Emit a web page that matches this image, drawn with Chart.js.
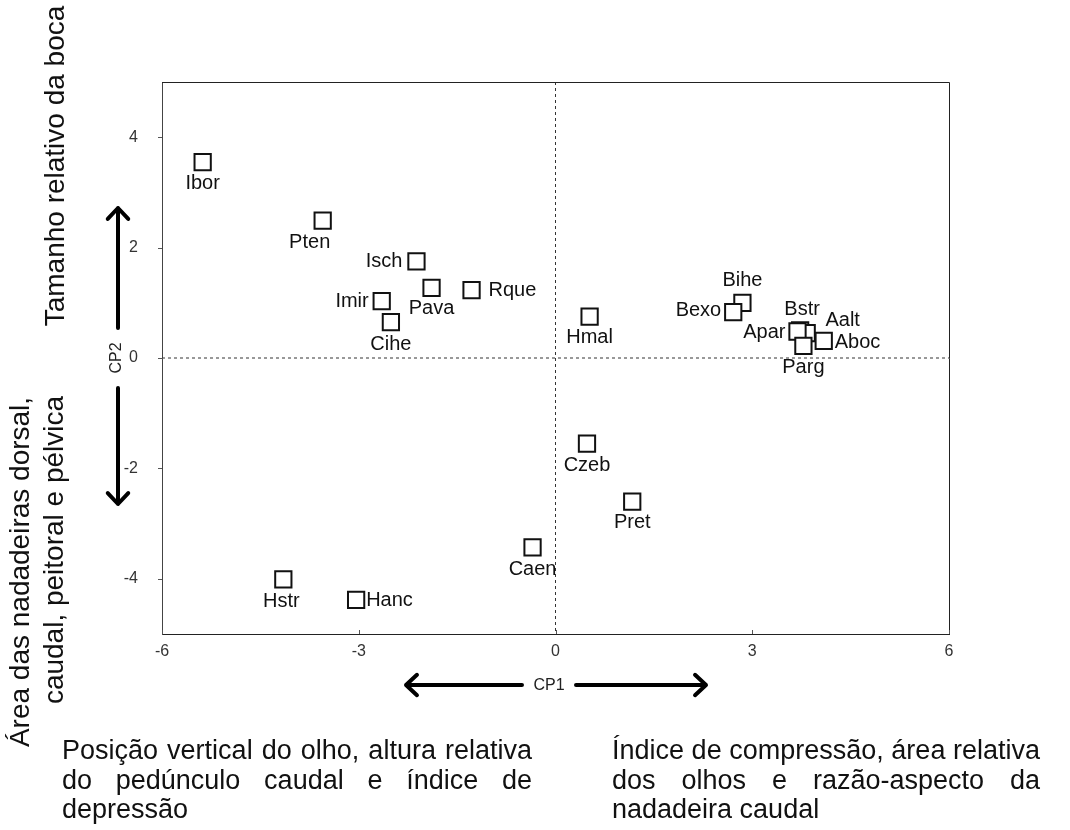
<!DOCTYPE html>
<html>
<head>
<meta charset="utf-8">
<script src="https://cdn.jsdelivr.net/npm/chart.js@4"></script>
<style>
  html, body { margin: 0; padding: 0; background: #fff; }
  canvas { display: block; }
</style>
</head>
<body>
<canvas id="chart" width="1070" height="830"></canvas>
<script>
// data
const species = ["Ibor", "Pten", "Isch", "Pava", "Rque", "Imir", "Cihe", "Hmal", "Bihe", "Bexo",
                 "Bstr", "Aalt", "Apar", "Aboc", "Parg", "Czeb", "Pret", "Caen", "Hstr", "Hanc"];
const cp1 = [-5.38, -3.55, -2.12, -1.89, -1.28, -2.65, -2.51, 0.52, 2.85, 2.71,
              3.73,  3.83,  3.69,  4.09,  3.78,  0.48,  1.17, -0.35, -4.15, -3.04];
const cp2 = [ 3.55,  2.49,  1.75,  1.27,  1.23,  1.03,  0.65, 0.75, 1.00, 0.83,
              0.50,  0.45,  0.48,  0.31,  0.22, -1.55, -2.60, -3.43, -4.01, -4.38];
const xTicks = [-6, -3, 0, 3, 6];
const yTicks = [-4, -2, 0, 2, 4];

// label placement relative to each point: [dx, dy, align]
const labelPos = [
  [0, 21, "center"], [-13, 22, "center"], [-14, 0, "right"], [0, 21, "center"], [17, 0, "left"],
  [-13, 0, "right"], [0, 22, "center"], [0, 21, "center"], [0, -22, "center"], [-12, -2, "right"],
  [2, -21, "center"], [36, -13, "center"], [-12, 1, "right"], [11, 2, "left"], [0, 22, "center"],
  [0, 22, "center"], [0, 21, "center"], [0, 22, "center"], [-2, 22, "center"], [10, 1, "left"],
];

const FONT = "'Liberation Sans', Arial, sans-serif";

function arrow(ctx, x1, y1, x2, y2) {
  const a = Math.atan2(y2 - y1, x2 - x1);
  const h = 15;
  ctx.beginPath();
  ctx.moveTo(x1, y1);
  ctx.lineTo(x2, y2);
  ctx.moveTo(x2 - h * Math.cos(a - 0.75), y2 - h * Math.sin(a - 0.75));
  ctx.lineTo(x2, y2);
  ctx.lineTo(x2 - h * Math.cos(a + 0.75), y2 - h * Math.sin(a + 0.75));
  ctx.stroke();
}

function justified(ctx, text, x, y, width) {
  const words = text.split(" ");
  const total = words.reduce((s, w) => s + ctx.measureText(w).width, 0);
  const gap = (width - total) / (words.length - 1);
  let cx = x;
  words.forEach((w) => {
    ctx.fillText(w, cx, y);
    cx += ctx.measureText(w).width + gap;
  });
}

const overlay = {
  id: "overlay",
  beforeDatasetsDraw(chart) {
    const { ctx, chartArea: a, scales } = chart;
    const x0 = scales.x.getPixelForValue(0);
    const y0 = scales.y.getPixelForValue(0);
    ctx.save();
    ctx.strokeStyle = "#333";
    ctx.lineWidth = 1;
    ctx.setLineDash([3, 3]);
    ctx.beginPath();
    ctx.moveTo(x0, a.top);
    ctx.lineTo(x0, a.bottom);
    ctx.moveTo(a.left, y0);
    ctx.lineTo(a.right, y0);
    ctx.stroke();
    ctx.restore();
  },
  afterDraw(chart) {
    const { ctx, chartArea: a, scales } = chart;
    ctx.save();

    // frame top and right
    ctx.strokeStyle = "#222";
    ctx.lineWidth = 1;
    ctx.beginPath();
    ctx.moveTo(a.left, a.top + 0.5);
    ctx.lineTo(a.right + 0.5, a.top + 0.5);
    ctx.lineTo(a.right + 0.5, a.bottom);
    ctx.stroke();

    // tick marks
    ctx.strokeStyle = "#555";
    ctx.beginPath();
    yTicks.forEach((v) => {
      const py = Math.round(scales.y.getPixelForValue(v)) + 0.5;
      ctx.moveTo(a.left - 4, py);
      ctx.lineTo(a.left, py);
    });
    xTicks.forEach((v) => {
      const px = Math.round(scales.x.getPixelForValue(v)) + 0.5;
      ctx.moveTo(px, a.bottom);
      ctx.lineTo(px, a.bottom - 4);
    });
    ctx.stroke();

    // point labels
    ctx.fillStyle = "#111";
    ctx.font = "20px " + FONT;
    ctx.textBaseline = "middle";
    species.forEach((name, i) => {
      const px = scales.x.getPixelForValue(cp1[i]);
      const py = scales.y.getPixelForValue(cp2[i]);
      const [dx, dy, align] = labelPos[i];
      ctx.textAlign = align;
      ctx.fillText(name, px + dx, py + dy);
    });

    // axis arrows
    ctx.strokeStyle = "#000";
    ctx.lineWidth = 4;
    ctx.lineCap = "round";
    ctx.lineJoin = "round";
    arrow(ctx, 118, 328, 118, 208);
    arrow(ctx, 118, 388, 118, 504);
    arrow(ctx, 522, 685, 406, 685);
    arrow(ctx, 576, 685, 706, 685);

    ctx.fillStyle = "#222";
    ctx.font = "16px " + FONT;
    ctx.textAlign = "center";
    ctx.textBaseline = "middle";
    ctx.fillText("CP1", 549, 686);
    ctx.save();
    ctx.translate(117, 358);
    ctx.rotate(-Math.PI / 2);
    ctx.fillText("CP2", 0, 0);
    ctx.restore();

    // descriptive texts
    ctx.fillStyle = "#111";
    ctx.textBaseline = "alphabetic";
    ctx.textAlign = "center";
    ctx.font = "28px " + FONT;
    const vert = (t, x, y) => {
      ctx.save();
      ctx.translate(x, y);
      ctx.rotate(-Math.PI / 2);
      ctx.fillText(t, 0, 0);
      ctx.restore();
    };
    vert("Tamanho relativo da boca", 64, 166);
    vert("Área das nadadeiras dorsal,", 29, 572);
    vert("caudal, peitoral e pélvica", 63, 550);

    ctx.font = "27px " + FONT;
    ctx.textAlign = "left";
    justified(ctx, "Posição vertical do olho, altura relativa", 62, 759, 470);
    justified(ctx, "do pedúnculo caudal e índice de", 62, 789, 470);
    ctx.fillText("depressão", 62, 818);
    justified(ctx, "Índice de compressão, área relativa", 612, 759, 428);
    justified(ctx, "dos olhos e razão-aspecto da", 612, 789, 428);
    ctx.fillText("nadadeira caudal", 612, 818);

    ctx.restore();
  },
};

new Chart(document.getElementById("chart"), {
  type: "scatter",
  data: {
    datasets: [{
      data: species.map((s, i) => ({ x: cp1[i], y: cp2[i] })),
      pointStyle: "rect",
      pointRadius: 11.5,
      borderColor: "#111",
      borderWidth: 2,
      backgroundColor: "#fff",
    }],
  },
  options: {
    responsive: false,
    animation: false,
    layout: { padding: { left: 102, right: 121, top: 82, bottom: 156 } },
    plugins: { legend: { display: false }, tooltip: { enabled: false } },
    scales: {
      x: {
        type: "linear",
        min: -6,
        max: 6,
        afterBuildTicks: (s) => { s.ticks = xTicks.map((v) => ({ value: v })); },
        afterFit: (s) => { s.height = 40; },
        ticks: { padding: 0, color: "#333", font: { size: 16, family: FONT } },
        grid: { display: false },
        border: { color: "#222", width: 1 },
      },
      y: {
        type: "linear",
        min: -5,
        max: 5,
        afterBuildTicks: (s) => { s.ticks = yTicks.map((v) => ({ value: v })); },
        afterFit: (s) => { s.width = 60; },
        ticks: { padding: 16, color: "#333", font: { size: 16, family: FONT } },
        grid: { display: false },
        border: { color: "#444", width: 1 },
      },
    },
  },
  plugins: [overlay],
});
</script>
</body>
</html>
